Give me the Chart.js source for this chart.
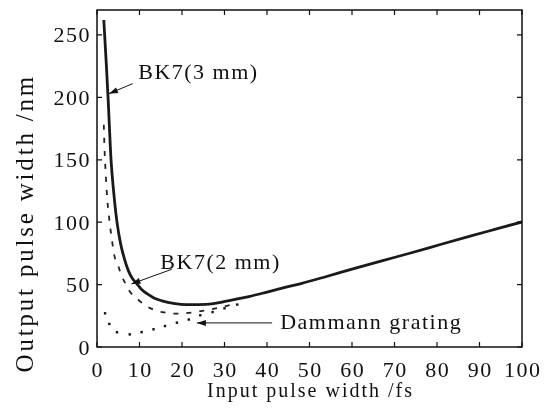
<!DOCTYPE html>
<html>
<head>
<meta charset="utf-8">
<script src="https://cdn.jsdelivr.net/npm/chart.js@4/dist/chart.umd.min.js"></script>
<style>
  html, body { margin: 0; padding: 0; background: #fff; }
  #wrap { width: 549px; height: 412px; }
</style>
</head>
<body>
<div id="wrap"><canvas id="c" width="549" height="412"></canvas></div>
<script>
// ---- data ----
const xTicks = [0, 10, 20, 30, 40, 50, 60, 70, 80, 90, 100];
const yTicks = [0, 50, 100, 150, 200, 250];

const bk7_3mm_x = [1.6, 1.8, 2.2, 2.6, 3.3, 3.9, 4.7, 5.6, 6.5, 7.4, 8.3, 9.3, 10.5, 12.1, 13.5, 15.3, 18, 21, 24, 27, 29.4, 33, 36, 40, 44, 48, 54, 60, 67, 74, 81, 88, 94, 100];
const bk7_3mm_y = [262, 250, 226, 200, 150, 125, 100, 82, 70, 61, 55, 51, 46, 42, 39, 37, 35, 34, 34, 34.5, 36, 38.5, 40.6, 44, 47.5, 50.8, 56.5, 62.4, 69, 75.5, 82.3, 89, 94.6, 100.2];

const bk7_2mm_x = [1.6, 1.8, 2.1, 2.4, 2.9, 3.5, 4.1, 5.0, 5.8, 6.7, 7.8, 9.4, 11.3, 13.7, 16, 18.4, 20.8, 23.1, 26.7, 30, 33];
const bk7_2mm_y = [178, 156, 136, 119, 102, 86, 73, 65, 57, 50.8, 44, 38.8, 33.5, 29.4, 27.6, 26.7, 27, 28, 30, 32.5, 35];

const dammann_x = [1.9, 2.9, 4.7, 7.7, 10.5, 13.3, 16.0, 18.8, 21.6, 24.3, 27.2, 30.0, 33.0];
const dammann_y = [27, 18.5, 11.8, 10.1, 11.9, 14.2, 16.8, 19.5, 22.0, 25.4, 28, 31, 34];

const labels = {
  bk73: 'BK7(3 mm)',
  bk72: 'BK7(2 mm)',
  dam: 'Dammann grating',
  xTitle: 'Input pulse width /fs',
  yTitle: 'Output pulse width /nm'
};

const pts = (xs, ys) => xs.map((x, i) => ({ x: x, y: ys[i] }));

const FONT = '"Liberation Serif", "Times New Roman", serif';
function setLS(ctx, px) { if ('letterSpacing' in ctx) ctx.letterSpacing = px + 'px'; }

function arrow(ctx, x1, y1, x2, y2, len, w) {
  ctx.beginPath();
  ctx.moveTo(x1, y1);
  ctx.lineTo(x2, y2);
  ctx.stroke();
  const a = Math.atan2(y2 - y1, x2 - x1);
  ctx.beginPath();
  ctx.moveTo(x2, y2);
  ctx.lineTo(x2 - len * Math.cos(a) + w * Math.sin(a), y2 - len * Math.sin(a) - w * Math.cos(a));
  ctx.lineTo(x2 - len * Math.cos(a) - w * Math.sin(a), y2 - len * Math.sin(a) + w * Math.cos(a));
  ctx.closePath();
  ctx.fill();
}

const framePlugin = {
  id: 'frame',
  afterDraw(chart) {
    const ctx = chart.ctx;
    const a = chart.chartArea;
    const xs = chart.scales.x, ys = chart.scales.y;
    ctx.save();
    ctx.strokeStyle = '#111';
    ctx.fillStyle = '#111';
    ctx.lineWidth = 1.5;
    ctx.strokeRect(a.left, a.top, a.right - a.left, a.bottom - a.top);
    ctx.lineWidth = 1.2;
    const tl = 5;
    // x ticks + labels
    ctx.font = '22px ' + FONT;
    setLS(ctx, 1.5);
    ctx.textAlign = 'center';
    ctx.textBaseline = 'alphabetic';
    xs.ticks.forEach(t => {
      const p = xs.getPixelForValue(t.value);
      ctx.beginPath();
      ctx.moveTo(p, a.bottom); ctx.lineTo(p, a.bottom - tl);
      ctx.moveTo(p, a.top); ctx.lineTo(p, a.top + tl);
      ctx.stroke();
      ctx.fillText(String(t.value), p + 0.75, a.bottom + 30);
    });
    // y ticks + labels
    ctx.textAlign = 'right';
    ys.ticks.forEach(t => {
      const p = ys.getPixelForValue(t.value);
      ctx.beginPath();
      ctx.moveTo(a.left, p); ctx.lineTo(a.left + tl, p);
      ctx.moveTo(a.right, p); ctx.lineTo(a.right - tl, p);
      ctx.stroke();
      ctx.fillText(String(t.value), a.left - 6, p + 7.5);
    });
    // axis titles
    ctx.font = '20px ' + FONT;
    setLS(ctx, 2);
    ctx.textAlign = 'center';
    ctx.fillText(labels.xTitle, (a.left + a.right) / 2 + 1, 397);
    ctx.save();
    ctx.translate(33, ys.getPixelForValue(100) + 1);
    ctx.rotate(-Math.PI / 2);
    ctx.font = '25px ' + FONT;
    setLS(ctx, 2.8);
    ctx.fillText(labels.yTitle, 0, 0);
    ctx.restore();

    // annotations
    ctx.font = '22px ' + FONT;
    setLS(ctx, 1.5);
    ctx.textAlign = 'left';
    ctx.textBaseline = 'middle';
    const X = v => xs.getPixelForValue(v), Y = v => ys.getPixelForValue(v);
    ctx.fillText(labels.bk73, X(9.7), Y(219));
    ctx.fillText(labels.bk72, X(14.9), Y(67));
    ctx.fillText(labels.dam, X(43.1), Y(18.8));
    ctx.lineWidth = 1;
    arrow(ctx, X(8.4), Y(211), X(2.8), Y(203), 9, 3);
    arrow(ctx, X(17.6), Y(62.3), X(8.1), Y(50.5), 9, 3);
    arrow(ctx, X(41.2), Y(19.3), X(23.5), Y(19.3), 9, 3);
    ctx.restore();
  }
};

new Chart(document.getElementById('c'), {
  type: 'line',
  data: {
    datasets: [
      {
        label: labels.bk73,
        data: pts(bk7_3mm_x, bk7_3mm_y),
        borderColor: '#1a1a1a',
        borderWidth: 2.8,
        pointRadius: 0,
        cubicInterpolationMode: 'monotone',
        fill: false
      },
      {
        label: labels.bk72,
        data: pts(bk7_2mm_x, bk7_2mm_y),
        borderColor: '#222',
        borderWidth: 1.8,
        borderDash: [5, 8],
        pointRadius: 0,
        cubicInterpolationMode: 'monotone',
        fill: false
      },
      {
        label: labels.dam,
        data: pts(dammann_x, dammann_y),
        showLine: false,
        pointStyle: 'rect',
        pointRadius: 1.7,
        pointBackgroundColor: '#111',
        pointBorderColor: '#111',
        pointBorderWidth: 0
      }
    ]
  },
  options: {
    responsive: false,
    animation: false,
    devicePixelRatio: 1,
    layout: { padding: { left: 0, right: 27, top: 10, bottom: 0 } },
    plugins: { legend: { display: false }, tooltip: { enabled: false } },
    scales: {
      x: {
        type: 'linear', min: 0, max: 100,
        afterBuildTicks: s => { s.ticks = xTicks.map(v => ({ value: v })); },
        afterFit: s => { s.height = 65; },
        grid: { display: false }, border: { display: false },
        ticks: { display: false }
      },
      y: {
        type: 'linear', min: 0, max: 270,
        afterBuildTicks: s => { s.ticks = yTicks.map(v => ({ value: v })); },
        afterFit: s => { s.width = 97; },
        grid: { display: false }, border: { display: false },
        ticks: { display: false }
      }
    }
  },
  plugins: [framePlugin]
});
</script>
</body>
</html>
